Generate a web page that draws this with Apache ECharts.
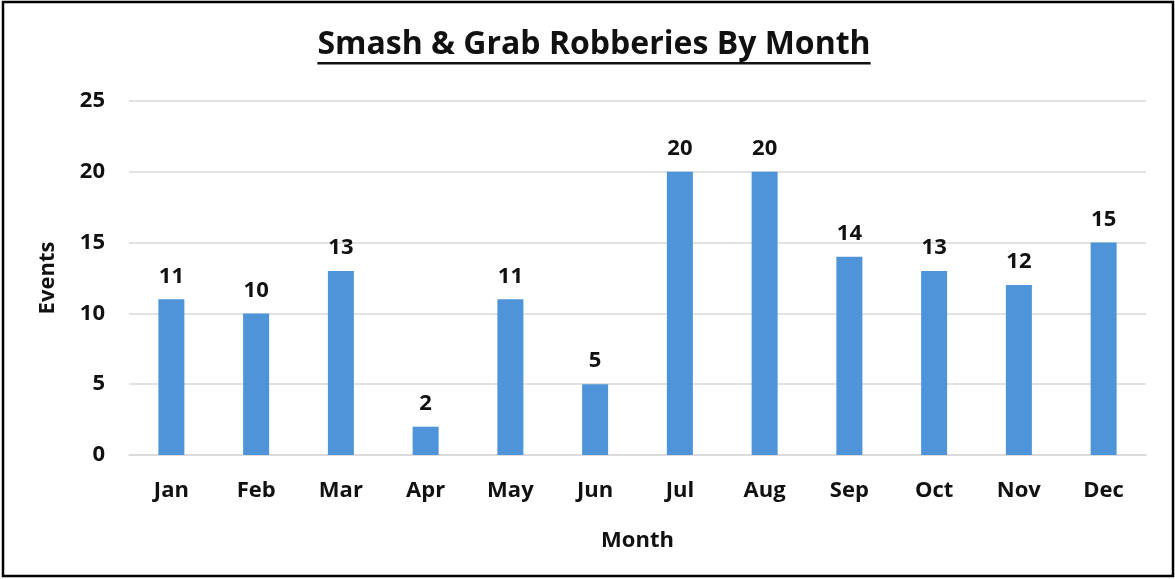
<!DOCTYPE html>
<html>
<head>
<meta charset="utf-8" />
<title>Smash &amp; Grab Robberies By Month</title>
<script src="https://cdn.jsdelivr.net/npm/echarts@6/dist/echarts.min.js"></script>
<style>
  html, body { margin: 0; padding: 0; background: #fff; }
  #chart { width: 1175px; height: 579px; }
</style>
</head>
<body>
<div id="chart"></div>
<script>
// chart data
const months = ["Jan", "Feb", "Mar", "Apr", "May", "Jun", "Jul", "Aug", "Sep", "Oct", "Nov", "Dec"];
const events = [11, 10, 13, 2, 11, 5, 20, 20, 14, 13, 12, 15];
const yTicks = [0, 5, 10, 15, 20, 25];

const titleText = "Smash & Grab Robberies By Month";
const font = "'Open Sans', 'DejaVu Sans', sans-serif";
const titleFont = "bold 32px 'Open Sans'";
const ink = "#111";

const chart = echarts.init(document.getElementById("chart"));

// width of the title, for the underline
const cv = document.createElement("canvas").getContext("2d");
cv.font = titleFont;
const titleW = cv.measureText(titleText).width;
const titleX = 594;

chart.setOption({
  animation: false,
  grid: { left: 129, right: 29, top: 101, bottom: 124 },
  xAxis: {
    type: "category",
    data: months,
    name: "Month",
    nameLocation: "middle",
    nameGap: 75,
    nameTextStyle: { fontFamily: font, fontWeight: "bold", fontSize: 22, color: ink },
    axisLine: { lineStyle: { color: "#d9d9d9", width: 1.5 } },
    axisTick: { show: false },
    axisLabel: { margin: 25, fontFamily: font, fontWeight: "bold", fontSize: 22, color: ink }
  },
  yAxis: {
    type: "value",
    min: yTicks[0],
    max: yTicks[yTicks.length - 1],
    interval: yTicks[1] - yTicks[0],
    name: "Events",
    nameLocation: "middle",
    nameGap: 70,
    nameRotate: 90,
    nameTextStyle: { fontFamily: font, fontWeight: "bold", fontSize: 22, color: ink },
    axisLine: { show: false },
    axisTick: { show: false },
    splitLine: { lineStyle: { color: "#d9d9d9", width: 1.5 } },
    axisLabel: { margin: 24, fontFamily: font, fontWeight: "bold", fontSize: 22, color: ink }
  },
  series: [{
    type: "bar",
    data: events,
    barWidth: 26,
    itemStyle: { color: "#4f94d9" },
    label: {
      show: true,
      position: "top",
      distance: 12,
      fontFamily: font,
      fontWeight: "bold",
      fontSize: 22,
      color: ink
    }
  }],
  graphic: [
    {
      type: "rect",
      shape: { x: 3, y: 2, width: 1170, height: 574 },
      style: { fill: null, stroke: "#000", lineWidth: 2.5 },
      silent: true
    },
    {
      type: "text",
      x: titleX,
      y: 45,
      style: {
        text: titleText,
        font: titleFont,
        fill: ink,
        align: "center",
        verticalAlign: "middle"
      }
    },
    {
      type: "rect",
      shape: { x: titleX - titleW / 2, y: 62, width: titleW, height: 2.5 },
      style: { fill: ink }
    }
  ]
});
</script>
</body>
</html>
